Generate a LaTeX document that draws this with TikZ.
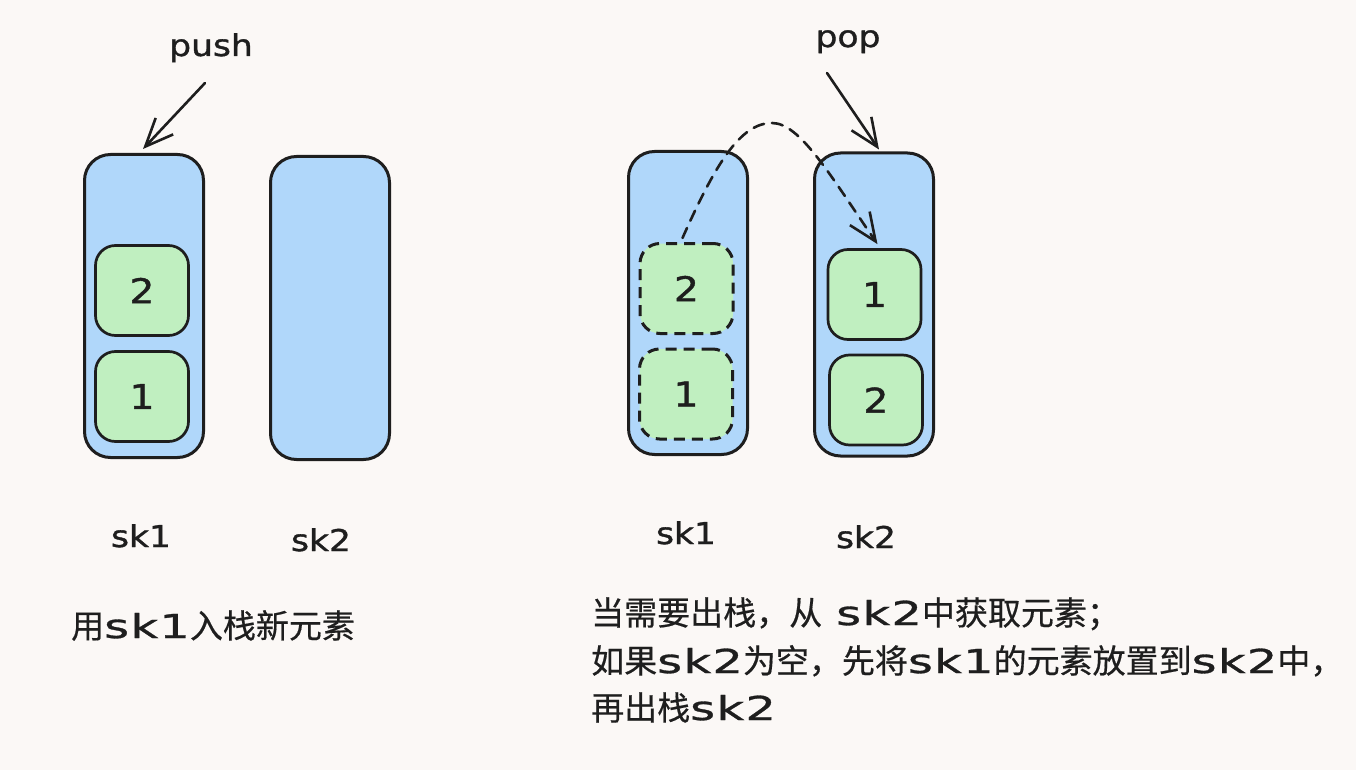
\documentclass[tikz,border=0pt]{standalone}
\usepackage{fontspec}
\usetikzlibrary{arrows.meta,calc}
\newfontfamily\cjk{Noto Sans CJK SC}[FakeBold=0.5]
\newfontfamily\lab{DejaVu Sans}[FakeStretch=1.15,FakeBold=1.2]
\newfontfamily\latb{DejaVu Sans}[Scale=1.0,FakeStretch=1.45,LetterSpace=4,FakeBold=1]
\newcommand{\sklat}[1]{{\latb #1}}
\definecolor{bg}{HTML}{FBF8F6}
\definecolor{ink}{HTML}{1E1E1E}
\definecolor{stackblue}{HTML}{B0D7FA}
\definecolor{itemgreen}{HTML}{C0EFC0}
\begin{document}
\begin{tikzpicture}[x=1pt,y=-1pt,
  stackbox/.style={draw=ink,fill=stackblue,line width=3pt,rounded corners=26pt,
    minimum width=119pt,minimum height=303pt,inner sep=0pt},
  itembox/.style={draw=ink,fill=itemgreen,line width=2.7pt,rounded corners=20pt,
    minimum width=93pt,minimum height=90pt,inner sep=0pt,
    font=\lab\fontsize{34}{34}\selectfont,text=ink},
  ghostbox/.style={itembox,dash pattern=on 11pt off 7pt,line width=3pt},
  lbl/.style={font=\lab\fontsize{30}{30}\selectfont,text=ink,inner sep=0pt,anchor=base},
  note/.style={font=\cjk\fontsize{33}{33}\selectfont,text=ink,inner sep=0pt,anchor=base west},
  arr/.style={draw=ink,line width=2.6pt,line cap=round,-{Straight Barb[length=28pt,width=24pt]}},
]
\fill[bg] (0,0) rectangle (1356,770);
\useasboundingbox (0,0) rectangle (1356,770);

% left: push
\node[stackbox] (La) at (144,306) {};
\node[stackbox] (Lb) at (330,308) {};
\node[itembox] (La2) at (142,290.5) {2};
\node[itembox] (La1) at (142,396.5) {1};
\node[lbl] (push) at (211,56) {push};
\coordinate (pushfrom) at (205,83);
\draw[arr] (pushfrom) -- ($(La.north)+(-1,-4)$);
\node[lbl] (lsk1) at (141,547) {sk1};
\node[lbl] (lsk2) at (321,551) {sk2};
\node[note] (tl) at (71,638) {用\sklat{sk1}入栈新元素};

% right: pop
\node[stackbox] (Ra) at (688,303) {};
\node[stackbox] (Rb) at (874,304.5) {};
\node[ghostbox] (Ra2) at (686.5,288.5) {2};
\node[ghostbox] (Ra1) at (686,394) {1};
\node[itembox] (Rb1) at (874.5,294.5) {1};
\node[itembox] (Rb2) at (876,400) {2};
\node[lbl] (pop) at (848,47) {pop};
\coordinate (popfrom) at (827,73);
\draw[arr] (popfrom) -- ($(Rb.north)+(5,-2)$);
\draw[arr,dash pattern=on 11pt off 8pt] ($(Ra2.north)+(-4,-4)$)
  .. controls (715,165) and (740,123) .. (772,123)
  .. controls (800,123) and (830,175) .. ($(Rb1.north)+(3,-4)$);
\node[lbl] (rsk1) at (686,544) {sk1};
\node[lbl] (rsk2) at (866,548) {sk2};
\node[note] (t1) at (591,625) {当需要出栈，从\hspace{14pt}\sklat{sk2}中获取元素；};
\node[note] (t2) at (591,673) {如果\sklat{sk2}为空，先将\sklat{sk1}的元素放置到\sklat{sk2}中，};
\node[note] (t3) at (591,720) {再出栈\sklat{sk2}};
\end{tikzpicture}
\end{document}
